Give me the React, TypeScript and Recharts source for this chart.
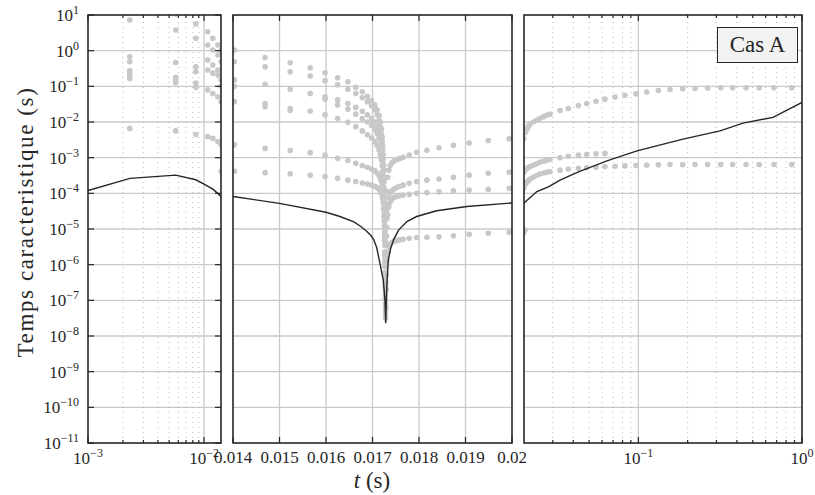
import React from 'react';
import { ComposedChart, Scatter, Line, XAxis, YAxis, ReferenceLine, ReferenceArea } from 'recharts';

const FONT = '"Liberation Serif", "Times New Roman", serif';
const W = 815;
const H = 495;
const TOP = 15;
const BOTTOM = 443;
const AXIS_H = 30;

const GRID = '#cacaca';
const MINOR = '#b8b8b8';
const DOT = '#c8c8c8';
const INK = '#262626';

// y decades, as log10 of the time constant
const yDecades = [1, 0, -1, -2, -3, -4, -5, -6, -7, -8, -9, -10, -11];

// x ticks of the three panels
const leftMajor = [0.001, 0.01];
const leftMinor = [0.002, 0.003, 0.004, 0.005, 0.006, 0.007, 0.008, 0.009];
const midMajor = [0.014, 0.015, 0.016, 0.017, 0.018, 0.019, 0.02];
const midLabels = ['0.014', '0.015', '0.016', '0.017', '0.018', '0.019', '0.02'];
const rightMajor = [0.1, 1];
const rightMinor = [0.03, 0.04, 0.05, 0.06, 0.07, 0.08, 0.09, 0.2, 0.3, 0.4, 0.5, 0.6, 0.7, 0.8, 0.9];

// black curve: t (s) and log10 of the time constant
const curveT = [
  0.001, 0.0023, 0.0057, 0.0085, 0.01, 0.012, 0.014, 0.015, 0.016, 0.0163, 0.0166, 0.01675, 0.01688,
  0.01697, 0.01703, 0.01709, 0.017146, 0.017232, 0.017268, 0.017284, 0.017297, 0.017315, 0.01734,
  0.01739, 0.01745, 0.01756, 0.01774, 0.01795, 0.01838, 0.01903, 0.02, 0.024, 0.0284, 0.0332,
  0.0434, 0.0643, 0.0981, 0.1875, 0.3155, 0.436, 0.665, 1,
];
const curveLg = [
  -3.92, -3.58, -3.49, -3.62, -3.74, -3.89, -4.09, -4.28, -4.53, -4.65, -4.8, -4.93, -5.07,
  -5.19, -5.31, -5.52, -5.87, -6.43, -7.0, -7.64, -7.0, -6.43, -5.87,
  -5.55, -5.31, -5.03, -4.79, -4.65, -4.49, -4.37, -4.27, -3.95, -3.81, -3.63,
  -3.39, -3.09, -2.81, -2.48, -2.25, -2.03, -1.87, -1.45,
];

// grey markers, column by column: t (s) and the log10 values in that column
const dotsBefore: [number, number[]][] = [
  [0.00229, [0.86, -0.17, -0.31, -0.56, -0.64, -0.71, -0.78, -2.18]],
  [0.0057, [1.03, 0.58, -0.33, -0.75, -0.82, -0.9, -2.25]],
  [0.0085, [0.75, 0.35, -0.45, -0.59, -0.91, -1.03, -2.35]],
  [0.01076, [0.53, 0.16, -0.26, -0.54, -1.1, -2.41]],
  [0.0119, [0.35, 0.02, -0.4, -0.63, -1.2, -2.46]],
  [0.01315, [0.16, -0.12, -0.54, -0.68, -1.29, -2.55]],
  [0.01403, [0.02, -0.31, -0.82, -1.0, -1.43, -2.64, -3.38]],
  [0.01469, [-0.19, -0.45, -0.94, -1.48, -1.57, -2.74, -3.42]],
  [0.01523, [-0.34, -0.59, -1.08, -1.62, -1.68, -2.8, -3.45]],
  [0.01566, [-0.48, -0.71, -1.2, -1.69, -2.86, -3.49]],
  [0.01598, [-0.62, -0.84, -1.29, -1.36, -1.8, -2.93, -3.53]],
  [0.01625, [-0.76, -0.96, -1.38, -1.52, -1.9, -3.02, -3.58]],
  [0.01647, [-0.87, -1.08, -1.48, -1.64, -2.01, -3.08, -3.63]],
  [0.01664, [-1.03, -1.2, -1.59, -1.78, -2.13, -3.16, -3.67]],
  [0.01678, [-1.15, -1.32, -1.7, -1.9, -2.25, -3.22, -3.71]],
  [0.01689, [-1.28, -1.43, -1.8, -2.0, -2.36, -3.27, -3.74]],
];

const dotsTrunk: [number, number[]][] = [
  [0.01698, [-1.4, -1.55, -1.9, -2.1, -2.45, -3.32, -3.77]],
  [0.01705, [-1.52, -1.66, -2.0, -2.2, -2.55, -3.37, -3.8]],
  [0.0171, [-1.66, -1.8, -2.12, -2.32, -2.66, -3.43, -3.84]],
  [0.01714, [-1.82, -1.96, -2.27, -2.45, -2.78, -3.5, -3.88]],
  [0.01717, [-2.0, -2.14, -2.43, -2.6, -2.92, -3.58, -3.93]],
  [0.01719, [-2.2, -2.33, -2.6, -2.76, -3.06, -3.66, -3.99]],
  [0.01721, [-2.42, -2.55, -2.8, -2.95, -3.22, -3.76, -4.06]],
  [0.01722, [-2.66, -2.78, -3.02, -3.15, -3.4, -3.88, -4.15]],
  [0.01723, [-2.92, -3.04, -3.26, -3.38, -3.6, -4.02, -4.26]],
  [0.01724, [-3.22, -3.33, -3.53, -3.64, -3.84, -4.2, -4.42]],
  [0.01725, [-3.58, -3.68, -3.86, -3.96, -4.14, -4.45, -4.64]],
  [0.017255, [-4.0, -4.1, -4.26, -4.35, -4.5, -4.76, -4.92]],
  [0.01726, [-4.5, -4.58, -4.72, -4.8, -4.94, -5.16, -5.3]],
  [0.017265, [-5.06, -5.14, -5.26, -5.34, -5.46, -5.64, -5.76]],
  [0.01727, [-5.7, -5.78, -5.88, -5.95, -6.06, -6.22, -6.32]],
  [0.017275, [-6.4, -6.48, -6.56, -6.62, -6.72, -6.85, -6.94]],
  [0.01728, [-7.0, -7.1, -7.18, -7.25, -7.32, -7.42, -7.5]],
  [0.01729, [-6.0, -6.5, -6.7, -7.2]],
  [0.017295, [-5.2, -5.8, -6.0, -6.7]],
  [0.0173, [-4.5, -5.2, -5.4, -6.3]],
  [0.01731, [-3.95, -4.7, -4.95, -5.9]],
  [0.01733, [-3.55, -4.3, -4.6, -5.65]],
  [0.01735, [-3.35, -4.12, -4.38, -5.5]],
  [0.01738, [-3.22, -3.99, -4.24, -5.42]],
  [0.01742, [-3.14, -3.92, -4.16, -5.37]],
  [0.01747, [-3.09, -3.87, -4.11, -5.34]],
  [0.01753, [-3.05, -3.83, -4.08, -5.32]],
  [0.01759, [-3.02, -3.8, -4.06, -5.3]],
];

const dotsAfter: [number, number[]][] = [
  [0.01766, [-2.99, -3.77, -4.05, -5.29]],
  [0.01779, [-2.93, -3.72, -4.03, -5.26]],
  [0.01795, [-2.85, -3.67, -4.0, -5.24]],
  [0.01817, [-2.79, -3.63, -3.98, -5.23]],
  [0.01843, [-2.72, -3.6, -3.96, -5.22]],
  [0.01874, [-2.65, -3.55, -3.93, -5.19]],
  [0.01908, [-2.59, -3.49, -3.91, -5.15]],
  [0.01949, [-2.52, -3.44, -3.89, -5.12]],
  [0.01994, [-2.47, -3.41, -3.86, -5.09]],
  [0.0203, [-2.3, -3.35, -3.75, -5.03]],
  [0.0206, [-2.24, -3.32, -3.71]],
  [0.021, [-2.17, -3.29, -3.67]],
  [0.0214, [-2.11, -3.27, -3.63]],
  [0.0218, [-2.05, -3.25, -3.6]],
  [0.0228, [-2.0, -3.21, -3.55]],
  [0.0239, [-1.95, -3.17, -3.5]],
  [0.025, [-1.9, -3.13, -3.46]],
  [0.0263, [-1.85, -3.1, -3.43]],
  [0.0275, [-1.81, -3.07, -3.41]],
  [0.0288, [-1.78, -3.05, -3.39]],
  [0.0332, [-1.68, -3.0, -3.35]],
  [0.0373, [-1.62, -2.96, -3.32]],
  [0.043, [-1.54, -2.93, -3.3]],
  [0.0483, [-1.48, -2.91, -3.28]],
  [0.0551, [-1.42, -2.89, -3.27]],
  [0.0625, [-1.36, -2.88, -3.25]],
  [0.072, [-1.3, -3.24]],
  [0.0828, [-1.25, -3.23]],
  [0.0968, [-1.21, -3.22]],
  [0.1125, [-1.16, -3.21]],
  [0.1324, [-1.12, -3.2]],
  [0.156, [-1.09, -3.19]],
  [0.1866, [-1.07, -3.19]],
  [0.222, [-1.06, -3.19]],
  [0.265, [-1.05, -3.19]],
  [0.319, [-1.04, -3.19]],
  [0.377, [-1.04, -3.19]],
  [0.455, [-1.04, -3.19]],
  [0.548, [-1.04, -3.19]],
  [0.674, [-1.04, -3.19]],
  [0.865, [-1.04, -3.19]],
];

const curveData = curveT.map((t, i) => ({ t, v: Math.pow(10, curveLg[i]) }));
const dotData = [...dotsBefore, ...dotsTrunk, ...dotsAfter].flatMap(([t, lgs]) =>
  lgs.map((lg) => ({ t, v: Math.pow(10, lg) }))
);
const yTicks = yDecades.map((e) => Math.pow(10, e));

type PanelCfg = {
  x0: number;
  x1: number;
  domain: [number, number];
  keep: [number, number];
  log: boolean;
  majors: number[];
  minors: number[];
  label: (v: number, x: number) => React.ReactNode;
  yLabels: boolean;
};

const sup = (e: number) => (e < 0 ? '\u2212' + Math.abs(e) : String(e));

const powLabel = (v: number, x: number) => (
  <text x={x} y={464} textAnchor="middle" fontFamily={FONT} fontSize={17} fill={INK}>
    10
    <tspan dy={-7} fontSize={12}>{sup(Math.round(Math.log10(v)))}</tspan>
  </text>
);

const panels: PanelCfg[] = [
  {
    x0: 88, x1: 221, domain: [0.001, 0.014], keep: [0.0009, 0.01404], log: true,
    majors: leftMajor, minors: leftMinor, label: powLabel, yLabels: true,
  },
  {
    x0: 233, x1: 512, domain: [0.014, 0.02], keep: [0.01402, 0.02], log: false,
    majors: midMajor, minors: [],
    label: (v, x) => (
      <text x={x} y={463} textAnchor="middle" fontFamily={FONT} fontSize={17} fill={INK}>
        {midLabels[midMajor.indexOf(v)]}
      </text>
    ),
    yLabels: false,
  },
  {
    x0: 524, x1: 802, domain: [0.02, 1], keep: [0.0199, 1], log: true,
    majors: rightMajor, minors: rightMinor, label: powLabel, yLabels: false,
  },
];

function Panel({ cfg }: { cfg: PanelCfg }) {
  const dots = dotData.filter((d) => d.t >= cfg.keep[0] && d.t <= cfg.keep[1]);
  const innerMajors = cfg.majors.filter((v) => v > cfg.domain[0] && v < cfg.domain[1]);

  const xTick = (props: any) => {
    const { x, payload } = props;
    const v = payload.value;
    const major = cfg.majors.includes(v);
    const len = major ? 6 : 3;
    return (
      <g>
        <line x1={x} y1={BOTTOM} x2={x} y2={BOTTOM - len} stroke={INK} strokeWidth={1.2} />
        <line x1={x} y1={TOP} x2={x} y2={TOP + len} stroke={INK} strokeWidth={1.2} />
        {major && cfg.label(v, x)}
      </g>
    );
  };

  const yTick = (props: any) => {
    const { y, payload } = props;
    const e = Math.round(Math.log10(payload.value));
    return (
      <g>
        <line x1={cfg.x0} y1={y} x2={cfg.x0 + 6} y2={y} stroke={INK} strokeWidth={1.2} />
        <line x1={cfg.x1} y1={y} x2={cfg.x1 - 6} y2={y} stroke={INK} strokeWidth={1.2} />
        {cfg.yLabels && (
          <text x={79} y={y + 6} textAnchor="end" fontFamily={FONT} fontSize={17} fill={INK}>
            10
            <tspan dy={-7} fontSize={12}>{sup(e)}</tspan>
          </text>
        )}
      </g>
    );
  };

  return (
    <div style={{ position: 'absolute', left: 0, top: 0 }}>
      <ComposedChart
        width={W}
        height={H}
        margin={{ top: TOP, right: W - cfg.x1, bottom: H - BOTTOM - AXIS_H, left: cfg.yLabels ? 0 : cfg.x0 }}
      >
        <XAxis
          dataKey="t"
          type="number"
          scale={cfg.log ? 'log' : 'linear'}
          domain={cfg.domain}
          allowDataOverflow
          ticks={[...cfg.majors, ...cfg.minors]}
          interval={0}
          axisLine={false}
          tickLine={false}
          tickSize={0}
          tickMargin={0}
          height={AXIS_H}
          tick={xTick}
        />
        <YAxis
          dataKey="v"
          type="number"
          scale="log"
          domain={[1e-11, 10]}
          allowDataOverflow
          ticks={yTicks}
          interval={0}
          axisLine={false}
          tickLine={false}
          tickSize={0}
          tickMargin={0}
          width={cfg.yLabels ? cfg.x0 : 0}
          tick={yTick}
        />
        {yTicks.map((v) => (
          <ReferenceLine key={'h' + v} y={v} stroke={GRID} strokeWidth={1.3} zIndex={-10} />
        ))}
        {cfg.minors.map((v) => (
          <ReferenceLine key={'m' + v} x={v} stroke={MINOR} strokeWidth={1} strokeDasharray="1 4" zIndex={-10} />
        ))}
        {innerMajors.map((v) => (
          <ReferenceLine key={'v' + v} x={v} stroke={GRID} strokeWidth={1.3} zIndex={-10} />
        ))}
        <Scatter
          data={dots}
          dataKey="v"
          isAnimationActive={false}
          zIndex={300}
          shape={(p: any) => <circle cx={p.cx} cy={p.cy} r={2.8} fill={DOT} />}
        />
        <Line
          data={curveData}
          dataKey="v"
          type="linear"
          stroke={INK}
          strokeWidth={1.4}
          dot={false}
          activeDot={false}
          isAnimationActive={false}
          zIndex={700}
        />
        <ReferenceArea
          x1={cfg.domain[0]}
          x2={cfg.domain[1]}
          y1={1e-11}
          y2={10}
          fill="none"
          fillOpacity={0}
          stroke={INK}
          strokeWidth={1.6}
          zIndex={800}
        />
      </ComposedChart>
    </div>
  );
}

export default function App() {
  return (
    <div style={{ position: 'absolute', left: 0, top: 0, width: W, height: H, background: '#fff', fontFamily: FONT }}>
      {panels.map((cfg, i) => (
        <Panel key={i} cfg={cfg} />
      ))}
      <div
        style={{
          position: 'absolute',
          left: 26,
          top: 222,
          transform: 'translate(-50%, -50%) rotate(-90deg)',
          whiteSpace: 'nowrap',
          fontSize: 23,
          letterSpacing: 1.6,
          color: INK,
        }}
      >
        Temps caracteristique (s)
      </div>
      <div
        style={{
          position: 'absolute',
          left: 372,
          top: 481,
          transform: 'translate(-50%, -50%)',
          whiteSpace: 'nowrap',
          fontSize: 23,
          lineHeight: '24px',
          color: INK,
        }}
      >
        <i>t</i> (s)
      </div>
      <div
        style={{
          position: 'absolute',
          left: 717,
          top: 27,
          width: 79,
          height: 34,
          border: '1.3px solid ' + INK,
          background: '#f2f2f2',
          display: 'flex',
          alignItems: 'center',
          justifyContent: 'center',
          fontSize: 23,
          color: INK,
        }}
      >
        Cas A
      </div>
    </div>
  );
}
